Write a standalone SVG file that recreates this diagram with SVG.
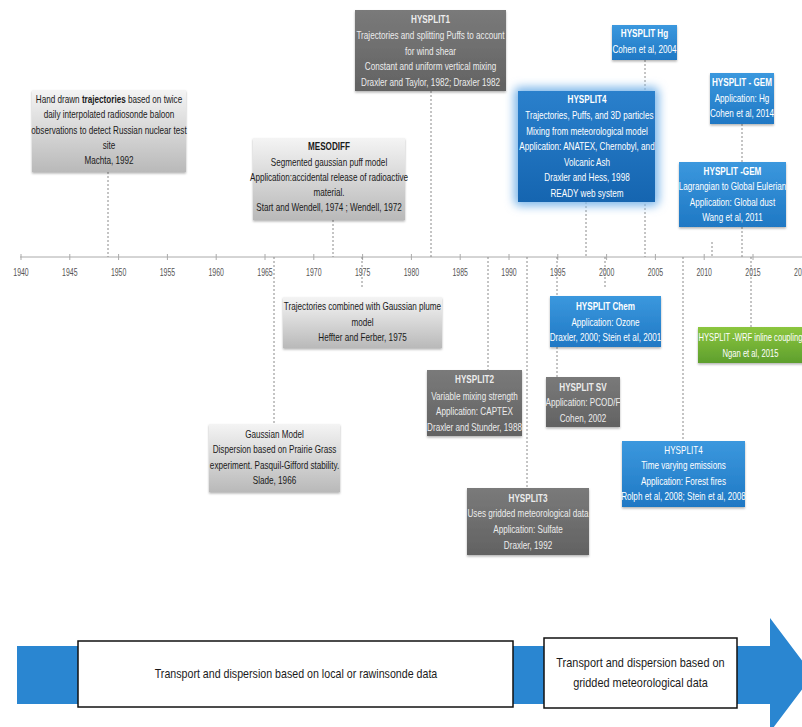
<svg xmlns="http://www.w3.org/2000/svg" width="802" height="727" viewBox="0 0 802 727">
<defs>
<linearGradient id="gLight" x1="0" y1="0" x2="0" y2="1"><stop offset="0" stop-color="#f4f4f4"/><stop offset="1" stop-color="#b9b9b9"/></linearGradient>
<linearGradient id="gDark" x1="0" y1="0" x2="0" y2="1"><stop offset="0" stop-color="#7a7a7a"/><stop offset="1" stop-color="#626262"/></linearGradient>
<linearGradient id="gBlue" x1="0" y1="0" x2="0" y2="1"><stop offset="0" stop-color="#3b98de"/><stop offset="1" stop-color="#1f78c4"/></linearGradient>
<linearGradient id="gBlueMain" x1="0" y1="0" x2="0" y2="1"><stop offset="0" stop-color="#2a80cc"/><stop offset="1" stop-color="#1565b0"/></linearGradient>
<linearGradient id="gGreen" x1="0" y1="0" x2="0" y2="1"><stop offset="0" stop-color="#8cc63f"/><stop offset="1" stop-color="#5e9f2d"/></linearGradient>
<filter id="shadow" x="-10%" y="-10%" width="120%" height="130%"><feDropShadow dx="0" dy="1.5" stdDeviation="1.2" flood-color="#000" flood-opacity="0.3"/></filter>
<filter id="glow" x="-30%" y="-30%" width="160%" height="160%"><feGaussianBlur stdDeviation="5"/></filter>
<style>
.t{font-family:"Liberation Sans",Arial,sans-serif;font-size:10.3px;text-anchor:middle}
.dk{fill:#1a1a1a}
.lt{fill:#ececec}
.wh{fill:#ffffff}
.b{font-weight:bold}
.light{fill:url(#gLight);filter:url(#shadow)}
.dark{fill:url(#gDark);filter:url(#shadow)}
.blue{fill:url(#gBlue);filter:url(#shadow)}
.con line{stroke:#8a8a8a;stroke-width:1;stroke-dasharray:2,2}
.yr{font-family:"Liberation Sans",Arial,sans-serif;font-size:10.5px;fill:#555;text-anchor:middle}
.big{font-family:"Liberation Sans",Arial,sans-serif;font-size:13px;fill:#1a1a1a;text-anchor:middle}
</style>
</defs>
<rect width="802" height="727" fill="#ffffff"/>

<g id="axis">
<line x1="20" y1="257" x2="802" y2="257" stroke="#aaaaaa" stroke-width="1"/>
<g stroke="#aaaaaa" stroke-width="1">
<line x1="21" y1="254" x2="21" y2="260"/><line x1="69.8" y1="254" x2="69.8" y2="260"/><line x1="118.6" y1="254" x2="118.6" y2="260"/><line x1="167.4" y1="254" x2="167.4" y2="260"/><line x1="216.2" y1="254" x2="216.2" y2="260"/><line x1="265" y1="254" x2="265" y2="260"/><line x1="313.8" y1="254" x2="313.8" y2="260"/><line x1="362.6" y1="254" x2="362.6" y2="260"/><line x1="411.4" y1="254" x2="411.4" y2="260"/><line x1="460.2" y1="254" x2="460.2" y2="260"/><line x1="509" y1="254" x2="509" y2="260"/><line x1="557.8" y1="254" x2="557.8" y2="260"/><line x1="606.6" y1="254" x2="606.6" y2="260"/><line x1="655.4" y1="254" x2="655.4" y2="260"/><line x1="704.2" y1="254" x2="704.2" y2="260"/><line x1="753" y1="254" x2="753" y2="260"/>
</g>
<g class="yr">
<text transform="translate(21 276) scale(0.66 1)">1940</text>
<text transform="translate(69.8 276) scale(0.66 1)">1945</text>
<text transform="translate(118.6 276) scale(0.66 1)">1950</text>
<text transform="translate(167.4 276) scale(0.66 1)">1955</text>
<text transform="translate(216.2 276) scale(0.66 1)">1960</text>
<text transform="translate(265 276) scale(0.66 1)">1965</text>
<text transform="translate(313.8 276) scale(0.66 1)">1970</text>
<text transform="translate(362.6 276) scale(0.66 1)">1975</text>
<text transform="translate(411.4 276) scale(0.66 1)">1980</text>
<text transform="translate(460.2 276) scale(0.66 1)">1985</text>
<text transform="translate(509 276) scale(0.66 1)">1990</text>
<text transform="translate(557.8 276) scale(0.66 1)">1995</text>
<text transform="translate(606.6 276) scale(0.66 1)">2000</text>
<text transform="translate(655.4 276) scale(0.66 1)">2005</text>
<text transform="translate(704.2 276) scale(0.66 1)">2010</text>
<text transform="translate(753 276) scale(0.66 1)">2015</text>
<text transform="translate(801.8 276) scale(0.66 1)">2020</text>
</g>
</g>

<g id="connectors" class="con">
<line x1="108" y1="172" x2="108" y2="257"/>
<line x1="333" y1="220" x2="333" y2="257"/>
<line x1="274" y1="257" x2="274" y2="424"/>
<line x1="362" y1="257" x2="362" y2="287"/>
<line x1="431" y1="91" x2="431" y2="257"/>
<line x1="488" y1="257" x2="488" y2="370"/>
<line x1="527" y1="257" x2="527" y2="488"/>
<line x1="557" y1="257" x2="557" y2="296"/>
<line x1="557" y1="347" x2="557" y2="377"/>
<line x1="586" y1="202" x2="586" y2="257"/>
<line x1="605" y1="257" x2="605" y2="288"/>
<line x1="645" y1="60" x2="645" y2="257"/>
<line x1="683" y1="257" x2="683" y2="441"/>
<line x1="712" y1="242" x2="712" y2="257"/>
<line x1="742" y1="124" x2="742" y2="162"/>
<line x1="742" y1="227" x2="742" y2="257"/>
<line x1="751" y1="257" x2="751" y2="327"/>
</g>

<g id="machta">
<rect class="light" x="32" y="90" width="154" height="82"/>
<g class="t dk" transform="translate(109 0) scale(0.79 1)">
<text y="103.5">Hand drawn <tspan class="b">trajectories</tspan> based on twice</text>
<text y="118.5">daily interpolated radiosonde baloon</text>
<text y="134.5">observations to detect Russian nuclear test</text>
<text y="149.5">site</text>
<text y="164.5">Machta, 1992</text>
</g>
</g>

<g id="mesodiff">
<rect class="light" x="253" y="138" width="152" height="82"/>
<g class="t dk" transform="translate(329 0) scale(0.79 1)">
<text class="b" y="150.5">MESODIFF</text>
<text y="166.5">Segmented gaussian puff model</text>
<text y="181.5">Application:accidental release of radioactive</text>
<text y="196.5">material.</text>
<text y="211.5">Start and Wendell, 1974 ; Wendell, 1972</text>
</g>
</g>

<g id="hysplit1">
<rect class="dark" x="355" y="10" width="151" height="81"/>
<g class="t lt" transform="translate(430.5 0) scale(0.79 1)">
<text class="b" y="23.5">HYSPLIT1</text>
<text y="39">Trajectories and splitting Puffs  to account</text>
<text y="55">for wind shear</text>
<text y="70.5">Constant and uniform vertical mixing</text>
<text y="86">Draxler and Taylor, 1982; Draxler 1982</text>
</g>
</g>

<g id="hysplit-hg">
<rect class="blue" x="612" y="25" width="65" height="35"/>
<g class="t wh" transform="translate(644.5 0) scale(0.79 1)">
<text class="b" y="37.5">HYSPLIT Hg</text>
<text y="53.5">Cohen et al, 2004</text>
</g>
</g>

<g id="hysplit4-main">
<rect x="514" y="87" width="145" height="119" rx="6" fill="#7fb8ea" filter="url(#glow)"/>
<rect x="518" y="91" width="137" height="111" fill="url(#gBlueMain)"/>
<g class="t wh" transform="translate(587 0) scale(0.79 1)">
<text class="b" y="103.5">HYSPLIT4</text>
<text x="3" y="119.5">Trajectories, Puffs, and 3D particles</text>
<text y="135.5">Mixing from meteorological model</text>
<text y="150.5">Application: ANATEX, Chernobyl,  and</text>
<text y="166.5">Volcanic Ash</text>
<text y="181.5">Draxler and Hess, 1998</text>
<text y="197.5">READY web system</text>
</g>
</g>

<g id="hysplit-gem-hg">
<rect class="blue" x="710" y="73" width="64" height="51"/>
<g class="t wh" transform="translate(742 0) scale(0.79 1)">
<text class="b" y="86.5">HYSPLIT - GEM</text>
<text y="102.5">Application: Hg</text>
<text y="117.5">Cohen et al, 2014</text>
</g>
</g>

<g id="hysplit-gem-dust">
<rect class="blue" x="679" y="162" width="107" height="65"/>
<g class="t wh" transform="translate(732.5 0) scale(0.79 1)">
<text class="b" y="175.5">HYSPLIT -GEM</text>
<text y="190.5">Lagrangian to Global Eulerian</text>
<text y="206.5">Application: Global dust</text>
<text y="221.5">Wang et al, 2011</text>
</g>
</g>

<g id="heffter">
<rect class="light" x="283" y="297" width="159" height="51"/>
<g class="t dk" transform="translate(362.5 0) scale(0.79 1)">
<text y="310.5">Trajectories  combined with Gaussian plume</text>
<text y="326.5">model</text>
<text y="341.5">Heffter and Ferber, 1975</text>
</g>
</g>

<g id="gaussian">
<rect class="light" x="209" y="424" width="131" height="68"/>
<g class="t dk" transform="translate(274.5 0) scale(0.79 1)">
<text y="438.5">Gaussian Model</text>
<text y="453.5">Dispersion based on Prairie Grass</text>
<text y="469.5">experiment. Pasquil-Gifford stability.</text>
<text y="484.5">Slade, 1966</text>
</g>
</g>

<g id="hysplit2">
<rect class="dark" x="427" y="370" width="95" height="66"/>
<g class="t lt" transform="translate(474.5 0) scale(0.79 1)">
<text class="b" y="383.5">HYSPLIT2</text>
<text y="400">Variable mixing strength</text>
<text y="415.5">Application: CAPTEX</text>
<text y="431">Draxler and Stunder, 1988</text>
</g>
</g>

<g id="hysplit3">
<rect class="dark" x="467" y="488" width="122" height="67"/>
<g class="t lt" transform="translate(528 0) scale(0.79 1)">
<text class="b" y="502.5">HYSPLIT3</text>
<text y="517.5">Uses gridded meteorological  data</text>
<text y="533">Application: Sulfate</text>
<text y="549">Draxler, 1992</text>
</g>
</g>

<g id="hysplit-chem">
<rect class="blue" x="550" y="296" width="111" height="51"/>
<g class="t wh" transform="translate(605.5 0) scale(0.79 1)">
<text class="b" y="310.5">HYSPLIT Chem</text>
<text y="326.5">Application: Ozone</text>
<text y="341.5">Draxler, 2000; Stein et al, 2001</text>
</g>
</g>

<g id="hysplit-sv">
<rect class="dark" x="546" y="377" width="74" height="50"/>
<g class="t lt" transform="translate(583 0) scale(0.79 1)">
<text class="b" y="391.5">HYSPLIT SV</text>
<text y="406.5">Application: PCOD/F</text>
<text y="422.5">Cohen, 2002</text>
</g>
</g>

<g id="hysplit4-time">
<rect class="blue" x="622" y="441" width="123" height="66"/>
<g class="t wh" transform="translate(683.5 0) scale(0.79 1)">
<text y="454.5">HYSPLIT4</text>
<text y="469.5">Time varying emissions</text>
<text y="485.5">Application: Forest fires</text>
<text y="500.5">Rolph et al, 2008; Stein et al, 2008</text>
</g>
</g>

<g id="hysplit-wrf">
<rect x="698" y="327" width="115" height="36" fill="url(#gGreen)" filter="url(#shadow)"/>
<g class="t wh" transform="translate(750.5 0) scale(0.74 1)">
<text y="341.5">HYSPLIT -WRF inline coupling</text>
<text y="357.5">Ngan et al, 2015</text>
</g>
</g>

<g id="era-arrow">
<polygon points="17,646 770,646 770,618 813,675 770,732 770,704 17,704" fill="#2a86d1"/>
</g>
<g id="era-local">
<rect x="78" y="641" width="435" height="66" fill="#ffffff" stroke="#111111" stroke-width="1.5"/>
<text class="big" transform="translate(296 678) scale(0.82 1)">Transport and dispersion based on local or rawinsonde data</text>
</g>
<g id="era-gridded">
<rect x="544" y="638" width="193" height="70" fill="#ffffff" stroke="#111111" stroke-width="1.5"/>
<text class="big" transform="translate(640.5 667) scale(0.84 1)">Transport and dispersion based on</text>
<text class="big" transform="translate(640.5 687) scale(0.84 1)">gridded meteorological data</text>
</g>
</svg>
